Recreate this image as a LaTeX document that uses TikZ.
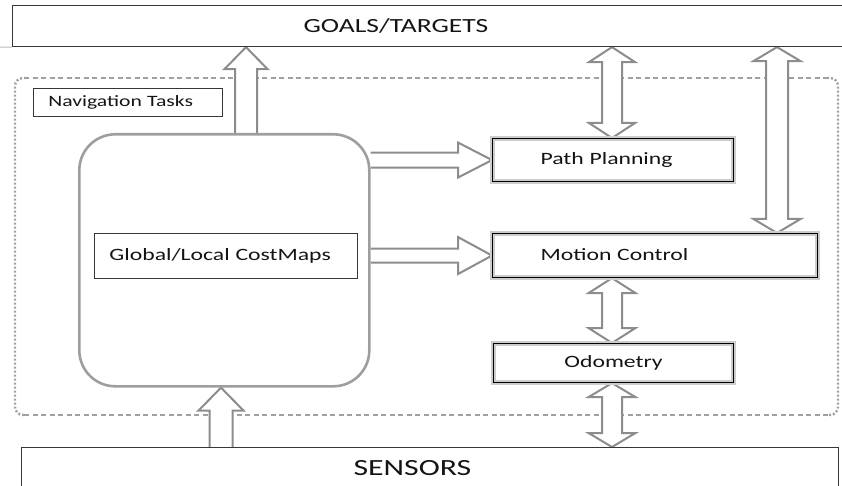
\documentclass[tikz,border=0pt]{standalone}
\usepackage{fontspec}
\setmainfont{Carlito}[FakeStretch=1.37]
\usetikzlibrary{calc,backgrounds}

\definecolor{arrowgray}{RGB}{140,140,140}
\definecolor{framegray}{RGB}{158,158,158}
\definecolor{dashgray}{RGB}{160,160,160}
\definecolor{inkline}{RGB}{55,55,55}
\definecolor{inktext}{RGB}{20,20,20}

% hollow block arrows built from node anchors
% #1 tip, #2 tail, #3 half shaft width, #4 half head width, #5 head length
\newcommand\hollowup[5]{%
  \path[hollowarrow] let \p1=#1, \p2=#2 in
    (\x1-#3,\y2) -- (\x1-#3,\y1-#5) -- (\x1-#4,\y1-#5) -- (\x1,\y1)
    -- (\x1+#4,\y1-#5) -- (\x1+#3,\y1-#5) -- (\x1+#3,\y2);}
% #1 upper tip, #2 lower tip
\newcommand\hollowboth[5]{%
  \path[hollowarrow] let \p1=#1, \p2=#2 in
    (\x1,\y1) -- (\x1+#4,\y1-#5) -- (\x1+#3,\y1-#5) -- (\x1+#3,\y2+#5)
    -- (\x1+#4,\y2+#5) -- (\x1,\y2) -- (\x1-#4,\y2+#5) -- (\x1-#3,\y2+#5)
    -- (\x1-#3,\y1-#5) -- (\x1-#4,\y1-#5) -- cycle;}
% #1 tail, #2 tip
\newcommand\hollowright[5]{%
  \path[hollowarrow] let \p1=#1, \p2=#2 in
    (\x1,\y2+#3) -- (\x2-#5,\y2+#3) -- (\x2-#5,\y2+#4) -- (\x2,\y2)
    -- (\x2-#5,\y2-#4) -- (\x2-#5,\y2-#3) -- (\x1,\y2-#3);}

\begin{document}
\begin{tikzpicture}[x=1pt,y=1pt,
  bandbox/.style={draw=inkline, line width=1.1pt, inner sep=0pt, anchor=north west,
    align=left, text=inktext},
  plainbox/.style={draw=inkline, line width=0.9pt, inner sep=0pt, anchor=north west,
    align=left, text=inktext, font=\fontsize{17.3pt}{20pt}\selectfont},
  haloedbox/.style={draw=black, line width=1.1pt,
    preaction={draw=gray!40, line width=4.5pt},
    inner sep=0pt, anchor=north west, align=left, text=inktext,
    font=\fontsize{17.3pt}{20pt}\selectfont},
  mapframe/.style={draw=framegray, line width=2.6pt, rounded corners=36pt,
    inner sep=0pt, anchor=north west},
  hollowarrow/.style={draw=arrowgray, line width=2pt, fill=white, line join=miter},
  groupedge/.style={draw=dashgray, line width=1.8pt, dash pattern=on 5pt off 3.5pt},
  groupside/.style={draw=dashgray, line width=2.4pt, dash pattern=on 2pt off 2pt,
    rounded corners=8pt}]
\useasboundingbox (0,0) rectangle (842,485);
\clip (0,0) rectangle (842,485);

% outer bands
\node[bandbox, minimum width=860pt, minimum height=41pt, text width=278pt,
  font=\fontsize{20.1pt}{24pt}\selectfont] (goals) at (12,480) {GOALS/TARGETS};
\node[bandbox, minimum width=817pt, minimum height=40pt, text width=153pt,
  font=\fontsize{23.2pt}{27pt}\selectfont] (sensors) at (21,38) {SENSORS};
\draw[gray!55, line width=1pt] (0,438) -- (goals.south west);

% navigation block
\node[plainbox, minimum width=189pt, minimum height=28pt, text width=159pt,
  font=\fontsize{15.8pt}{18pt}\selectfont] (tasks) at (33,397) {Navigation Tasks};
\node[mapframe, minimum width=290pt, minimum height=252pt] (big) at (78,352) {};
\node[plainbox, minimum width=263pt, minimum height=45pt, text width=233pt]
  (costmaps) at (94,252) {\raisebox{3pt}{Global/Local CostMaps}};

\node[haloedbox, minimum width=241pt, minimum height=43pt, text width=145pt]
  (plan) at (492,347) {Path Planning};
\node[haloedbox, minimum width=325pt, minimum height=44pt, text width=229pt]
  (motion) at (492,252) {\raisebox{2pt}{Motion Control}};
\node[haloedbox, minimum width=240pt, minimum height=39pt, align=center]
  (odom) at (493,142) {\raisebox{1pt}{Odometry}};

% arrow columns
\coordinate (taskx) at (246,0);
\coordinate (planx) at (612,0);
\coordinate (drivex) at (777,0);
\coordinate (sensex) at (221,0);

\begin{pgfonlayer}{background}
  % dashed grouping frame
  \draw[groupedge] (24,407) -- (829,407);
  \draw[groupedge] (24,70) -- (829,70);
  \draw[groupside] (26,407) -- (15,407) -- (15,70) -- (26,70);
  \draw[groupside] (827,407) -- (838,407) -- (838,70) -- (827,70);

  \hollowup{(goals.south -| taskx)}{(big.north -| taskx)}{11pt}{21.5pt}{22pt}
  \hollowup{(big.south -| sensex)}{(sensors.north -| sensex)}{11.5pt}{22.5pt}{23pt}
  \hollowboth{(goals.south -| planx)}{(plan.north -| planx)}{10pt}{23pt}{15pt}
  \hollowboth{(goals.south -| drivex)}{(motion.north -| drivex)}{11pt}{23.5pt}{14pt}
  \hollowboth{(motion.south -| planx)}{(odom.north -| planx)}{10pt}{23.5pt}{15pt}
  \hollowboth{(odom.south -| planx)}{(sensors.north -| planx)}{10pt}{23.5pt}{14pt}
  \hollowright{(big.east |- plan.west)}{(plan.west)}{7.5pt}{17.5pt}{34pt}
  \hollowright{(big.east |- motion.west)}{(motion.west)}{7pt}{18.5pt}{34pt}
\end{pgfonlayer}
\end{tikzpicture}
\end{document}
